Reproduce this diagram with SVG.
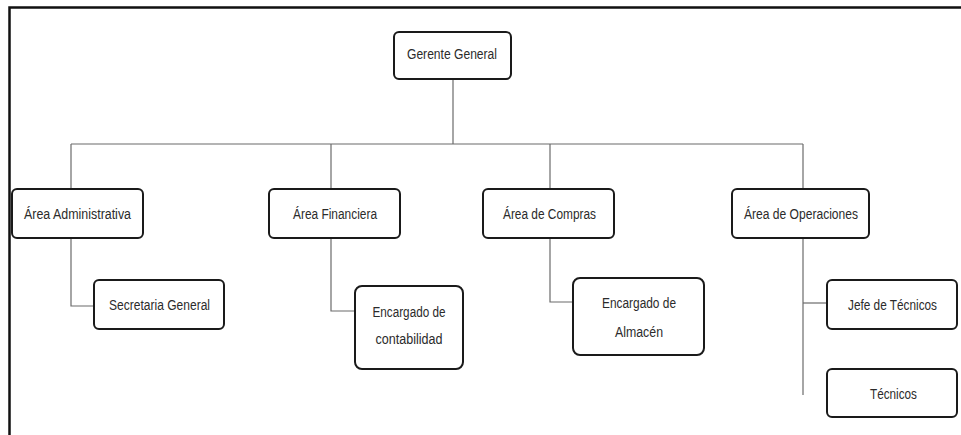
<svg xmlns="http://www.w3.org/2000/svg" width="961" height="435" viewBox="0 0 961 435">
  <style>
    .box { fill: #ffffff; stroke: #1a1a1a; stroke-width: 2; }
    .lbl { font-family: "Liberation Sans", "DejaVu Sans", sans-serif; font-size: 15.5px; fill: #2b2b2b; text-anchor: middle; }
    .conn { fill: none; stroke: #6b6b6b; stroke-width: 1.2; }
    .frame { fill: none; stroke: #111111; stroke-width: 2.5; }
  </style>

  <rect width="961" height="435" fill="#ffffff"/>
  <!-- page frame: top and left edges -->
  <path class="frame" d="M9.5 435 V7.5 H961"/>

  <!-- connectors -->
  <g id="connectors">
    <path class="conn" d="M453 79 V144"/>
    <path class="conn" d="M71 144 H803"/>
    <path class="conn" d="M71 144 V189"/>
    <path class="conn" d="M331 144 V189"/>
    <path class="conn" d="M550 144 V189"/>
    <path class="conn" d="M803 144 V189"/>
    <path class="conn" d="M71 238 V306 H94"/>
    <path class="conn" d="M331 238 V311 H355"/>
    <path class="conn" d="M550 238 V302 H573"/>
    <path class="conn" d="M803 238 V395"/>
    <path class="conn" d="M803 303 H827"/>
  </g>

  <g id="gerente-general">
    <rect class="box" x="394" y="32" width="117" height="47" rx="5"/>
    <text class="lbl" x="452" y="59" textLength="90" lengthAdjust="spacingAndGlyphs">Gerente General</text>
  </g>

  <g id="area-administrativa">
    <rect class="box" x="12" y="189" width="131" height="49" rx="5"/>
    <text class="lbl" x="77.5" y="219" textLength="107" lengthAdjust="spacingAndGlyphs">Área Administrativa</text>
  </g>

  <g id="area-financiera">
    <rect class="box" x="269" y="189" width="131" height="49" rx="5"/>
    <text class="lbl" x="335" y="219" textLength="84" lengthAdjust="spacingAndGlyphs">Área Financiera</text>
  </g>

  <g id="area-compras">
    <rect class="box" x="483" y="189" width="131" height="49" rx="5"/>
    <text class="lbl" x="549.5" y="219" textLength="93" lengthAdjust="spacingAndGlyphs">Área de Compras</text>
  </g>

  <g id="area-operaciones">
    <rect class="box" x="732" y="189" width="137" height="49" rx="5"/>
    <text class="lbl" x="801" y="219" textLength="114" lengthAdjust="spacingAndGlyphs">Área de Operaciones</text>
  </g>

  <g id="secretaria-general">
    <rect class="box" x="94" y="280" width="130" height="49" rx="5"/>
    <text class="lbl" x="159.5" y="310" textLength="101" lengthAdjust="spacingAndGlyphs">Secretaria General</text>
  </g>

  <g id="encargado-contabilidad">
    <rect class="box" x="355" y="286" width="108" height="83" rx="7"/>
    <text class="lbl" x="409" y="317" textLength="73" lengthAdjust="spacingAndGlyphs">Encargado de</text>
    <text class="lbl" x="409" y="344" textLength="67" lengthAdjust="spacingAndGlyphs">contabilidad</text>
  </g>

  <g id="encargado-almacen">
    <rect class="box" x="573" y="278" width="131" height="77" rx="7"/>
    <text class="lbl" x="639" y="308" textLength="74" lengthAdjust="spacingAndGlyphs">Encargado de</text>
    <text class="lbl" x="639" y="337" textLength="48" lengthAdjust="spacingAndGlyphs">Almacén</text>
  </g>

  <g id="jefe-tecnicos">
    <rect class="box" x="827" y="280" width="130" height="49" rx="5"/>
    <text class="lbl" x="892.5" y="310" textLength="89" lengthAdjust="spacingAndGlyphs">Jefe de Técnicos</text>
  </g>

  <g id="tecnicos">
    <rect class="box" x="827" y="369" width="130" height="48" rx="5"/>
    <text class="lbl" x="893.5" y="399" textLength="47" lengthAdjust="spacingAndGlyphs">Técnicos</text>
  </g>
</svg>
